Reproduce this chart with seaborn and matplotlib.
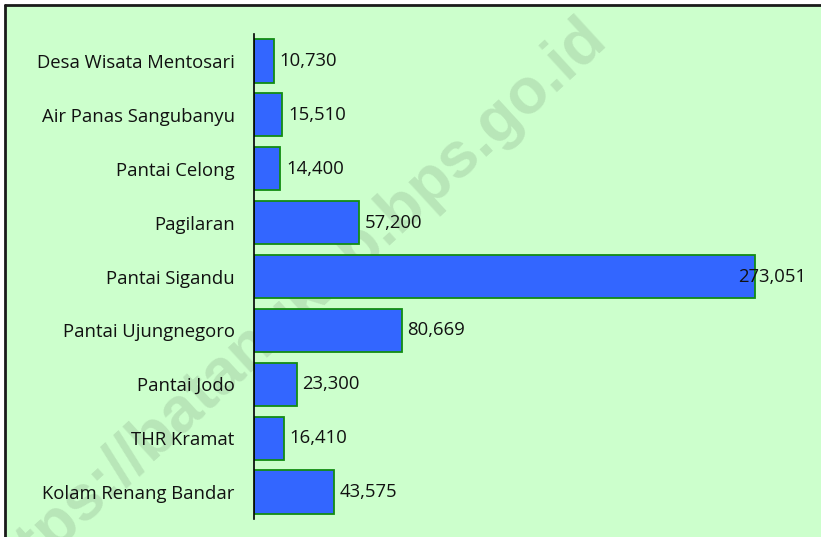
import matplotlib
matplotlib.use("Agg")
import matplotlib.pyplot as plt
from matplotlib.lines import Line2D
import seaborn as sns
import pandas as pd
import numpy as np

# data
destinations = [
    "Desa Wisata Mentosari",
    "Air Panas Sangubanyu",
    "Pantai Celong",
    "Pagilaran",
    "Pantai Sigandu",
    "Pantai Ujungnegoro",
    "Pantai Jodo",
    "THR Kramat",
    "Kolam Renang Bandar",
]
visitors = [10730, 15510, 14400, 57200, 273051, 80669, 23300, 16410, 43575]

BG = "#CCFFCC"
BAR = "#3366FF"
EDGE = "#128C12"

sns.set_style("white")
plt.rcParams["font.family"] = ["Open Sans", "DejaVu Sans"]

df = pd.DataFrame({"destination": destinations, "visitors": visitors})

fig = plt.figure(figsize=(8.21, 5.37), dpi=100)
fig.patch.set_facecolor("white")

# green chart area with a dark border on top and left
fig.patches.append(plt.Rectangle((5 / 821, 0), 1, 1 - 5 / 537, transform=fig.transFigure,
                                 facecolor=BG, edgecolor="none", zorder=-10))
fig.lines.append(Line2D([4.5 / 821, 1], [1 - 5 / 537, 1 - 5 / 537], transform=fig.transFigure,
                        color="#1a1a1a", lw=2))
fig.lines.append(Line2D([4.5 / 821, 4.5 / 821], [0, 1 - 5 / 537], transform=fig.transFigure,
                        color="#1a1a1a", lw=2))

# watermark sits behind the bars
fig.text(290 / 821, 1 - 310 / 537, "https://batangkab.bps.go.id", rotation=42.5,
         ha="center", va="center", fontsize=46, fontweight="bold",
         family="Liberation Sans", color="black", alpha=0.1, zorder=-5)

ax = fig.add_axes([254 / 821, 1 - 519 / 537, 550 / 821, (519 - 34) / 537])
ax.set_facecolor("none")

sns.barplot(data=df, x="visitors", y="destination", orient="h", ax=ax,
            color=BAR, saturation=1, width=0.8, edgecolor=EDGE, linewidth=1.3)

ax.set_xlim(0, 300000)
ax.set_ylim(len(destinations) - 0.5, -0.5)
ax.set_xlabel("")
ax.set_ylabel("")
ax.set_xticks([])
for s in ["top", "right", "bottom"]:
    ax.spines[s].set_visible(False)
ax.spines["left"].set_color("black")
ax.spines["left"].set_linewidth(1.2)

ax.tick_params(axis="y", which="major", length=0, pad=14, labelsize=13.3, labelcolor="#111111")
ax.set_yticks(np.arange(len(destinations) + 1) - 0.5, minor=True)
ax.tick_params(axis="y", which="minor", length=5.5, width=1.2, color="black", direction="out")

imax = int(np.argmax(visitors))
for i, v in enumerate(visitors):
    off = -11.5 if i == imax else 4
    ax.annotate(f"{v:,}", (v, i), xytext=(off, 0), textcoords="offset points",
                ha="left", va="center", fontsize=13.3, color="#111111")

fig.savefig("out.png", dpi=100)
